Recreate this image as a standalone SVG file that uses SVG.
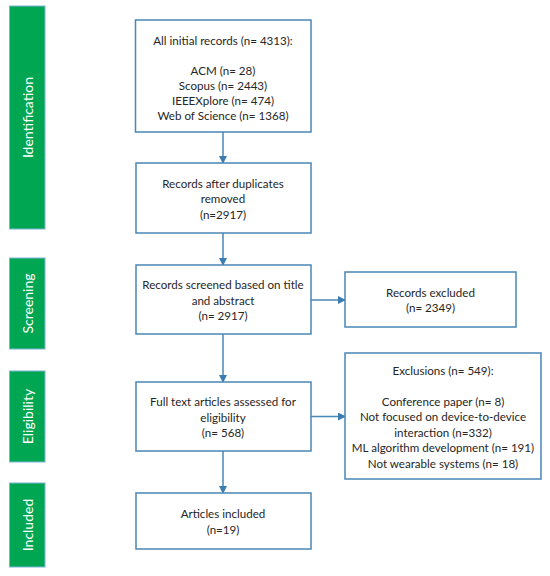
<svg xmlns="http://www.w3.org/2000/svg" width="550" height="576" viewBox="0 0 550 576">
  <style>
    .box { fill: #ffffff; stroke: #4a86b4; stroke-width: 1.5; }
    .bar { fill: #00a651; stroke: #7fb2da; stroke-width: 1; }
    .t { font-family: Lato, "Open Sans", "Liberation Sans", sans-serif; font-size: 11.6px; fill: #262626; text-anchor: middle; dominant-baseline: central; }
    .bt { font-family: Lato, "Open Sans", "Liberation Sans", sans-serif; font-size: 14px; fill: #ffffff; text-anchor: middle; dominant-baseline: central; }
    .c { stroke: #4a86b4; stroke-width: 1.5; fill: none; marker-end: url(#ah); }
  </style>
  <defs>
    <marker id="ah" markerWidth="8" markerHeight="8" refX="7" refY="4" orient="auto" markerUnits="userSpaceOnUse">
      <path d="M0,0 L8,4 L0,8 z" fill="#3b7db0"/>
    </marker>
  </defs>
  <rect width="550" height="576" fill="#ffffff"/>

  <g id="stage-identification">
    <rect class="bar" x="9.5" y="6" width="35.5" height="223"/>
    <text class="bt" transform="translate(27.5,117.5) rotate(-90)">Identification</text>
  </g>
  <g id="stage-screening">
    <rect class="bar" x="9.5" y="258" width="35.5" height="91"/>
    <text class="bt" transform="translate(27.5,303.5) rotate(-90)">Screening</text>
  </g>
  <g id="stage-eligibility">
    <rect class="bar" x="9.5" y="371" width="35.5" height="91"/>
    <text class="bt" transform="translate(27.5,416.5) rotate(-90)">Eligibility</text>
  </g>
  <g id="stage-included">
    <rect class="bar" x="9.5" y="483" width="35.5" height="84"/>
    <text class="bt" transform="translate(27.5,525) rotate(-90)">Included</text>
  </g>

  <g id="connectors">
    <line class="c" x1="223" y1="132" x2="223" y2="163"/>
    <line class="c" x1="223" y1="233" x2="223" y2="265"/>
    <line class="c" x1="311" y1="300" x2="345" y2="300"/>
    <line class="c" x1="223" y1="334" x2="223" y2="382"/>
    <line class="c" x1="311" y1="416.5" x2="345" y2="416.5"/>
    <line class="c" x1="223" y1="451" x2="223" y2="493"/>
  </g>

  <g id="node-initial">
    <rect class="box" x="135.5" y="20" width="175.5" height="112"/>
    <text class="t" x="223" y="40">All initial records (n= 4313):</text>
    <text class="t" x="223" y="70">ACM (n= 28)</text>
    <text class="t" x="223" y="85">Scopus (n= 2443)</text>
    <text class="t" x="223" y="100">IEEEXplore (n= 474)</text>
    <text class="t" x="223" y="115">Web of Science (n= 1368)</text>
  </g>
  <g id="node-duplicates">
    <rect class="box" x="136" y="163" width="175" height="70"/>
    <text class="t" x="223" y="183">Records after duplicates</text>
    <text class="t" x="223" y="198.5">removed</text>
    <text class="t" x="223" y="214">(n=2917)</text>
  </g>
  <g id="node-screened">
    <rect class="box" x="136" y="265" width="175" height="69"/>
    <text class="t" x="223" y="284.5">Records screened based on title</text>
    <text class="t" x="223" y="300">and abstract</text>
    <text class="t" x="223" y="315.5">(n= 2917)</text>
  </g>
  <g id="node-excluded">
    <rect class="box" x="345" y="272" width="171" height="55"/>
    <text class="t" x="430.5" y="292">Records excluded</text>
    <text class="t" x="430.5" y="307.5">(n= 2349)</text>
  </g>
  <g id="node-fulltext">
    <rect class="box" x="136" y="382" width="175" height="69"/>
    <text class="t" x="223" y="401.5">Full text articles assessed for</text>
    <text class="t" x="223" y="417">eligibility</text>
    <text class="t" x="223" y="432.5">(n= 568)</text>
  </g>
  <g id="node-exclusions">
    <rect class="box" x="345" y="353" width="196" height="126"/>
    <text class="t" x="443" y="370.5">Exclusions (n= 549):</text>
    <text class="t" x="443" y="401">Conference paper (n= 8)</text>
    <text class="t" x="443" y="416.5">Not focused on device-to-device</text>
    <text class="t" x="443" y="432">interaction (n=332)</text>
    <text class="t" x="443" y="447.5">ML algorithm development (n= 191)</text>
    <text class="t" x="443" y="463">Not wearable systems (n= 18)</text>
  </g>
  <g id="node-included">
    <rect class="box" x="136" y="493" width="175" height="56"/>
    <text class="t" x="223" y="513.5">Articles included</text>
    <text class="t" x="223" y="529">(n=19)</text>
  </g>
</svg>
